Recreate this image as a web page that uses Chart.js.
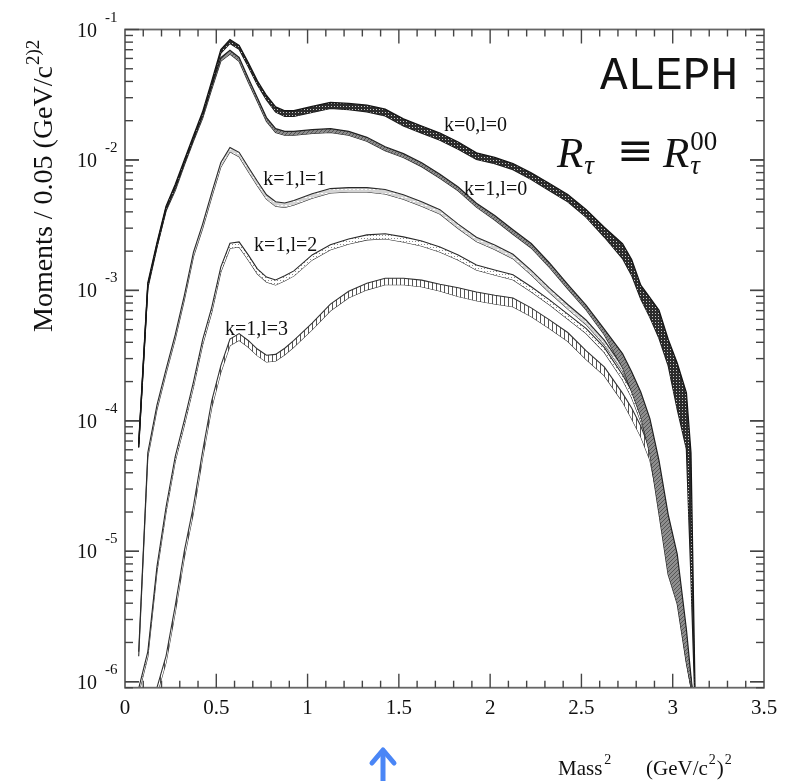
<!DOCTYPE html>
<html>
<head>
<meta charset="utf-8">
<script src="https://cdn.jsdelivr.net/npm/chart.js@4.4.1/dist/chart.umd.min.js"></script>
<style>
  html, body { margin: 0; padding: 0; background: #fff; }
  canvas { display: block; }
</style>
</head>
<body>
<canvas id="moments" width="791" height="781"></canvas>
<script>
// mass^2 bin centres, (GeV/c^2)^2
var mass2 = [0.075, 0.125, 0.175, 0.225, 0.275, 0.325, 0.375, 0.425, 0.475, 0.525,
  0.575, 0.625, 0.675, 0.725, 0.775, 0.825, 0.875, 0.925,
  1.025, 1.125, 1.225, 1.325, 1.425, 1.525, 1.625, 1.725, 1.825, 1.925,
  2.025, 2.125, 2.225, 2.325, 2.425, 2.525, 2.625, 2.725,
  2.775, 2.825, 2.875, 2.925, 2.975, 3.025, 3.075, 3.1, 3.125];

// spectral moments per bin (central value) and relative half width of each band
var r00 = [6.5e-5, 1.11e-3, 2.25e-3, 4.3e-3, 6.3e-3, 9.7e-3, 1.49e-2, 2.27e-2, 3.9e-2, 6.8e-2,
  8.1e-2, 7.3e-2, 5.4e-2, 3.9e-2, 3.0e-2, 2.44e-2, 2.27e-2, 2.27e-2,
  2.44e-2, 2.62e-2, 2.57e-2, 2.48e-2, 2.31e-2, 1.94e-2, 1.71e-2, 1.51e-2, 1.29e-2, 1.07e-2,
  9.9e-3, 8.9e-3, 7.5e-3, 6.2e-3, 5.1e-3, 3.9e-3, 2.8e-3, 2.0e-3,
  1.5e-3, 9.7e-4, 7.4e-4, 5.5e-4, 3.35e-4, 1.84e-4, 1.0e-4, 1.9e-5, 5e-7];
var r00Err = [0.03, 0.03, 0.03, 0.03, 0.03, 0.03, 0.03, 0.03, 0.03, 0.03,
  0.035, 0.035, 0.035, 0.035, 0.04, 0.045, 0.05, 0.05,
  0.055, 0.055, 0.055, 0.06, 0.06, 0.065, 0.065, 0.065, 0.065, 0.06,
  0.055, 0.055, 0.06, 0.065, 0.065, 0.07, 0.09, 0.14,
  0.15, 0.13, 0.19, 0.28, 0.26, 0.5, 0.64, 2.0, 0];

var r10 = [6.4e-5, 1.07e-3, 2.2e-3, 4.2e-3, 6.0e-3, 9.4e-3, 1.44e-2, 2.15e-2, 3.6e-2, 5.9e-2,
  6.7e-2, 5.9e-2, 4.1e-2, 2.9e-2, 2.04e-2, 1.68e-2, 1.60e-2, 1.60e-2,
  1.65e-2, 1.68e-2, 1.60e-2, 1.44e-2, 1.22e-2, 1.08e-2, 9.2e-3, 7.5e-3, 6.0e-3, 4.5e-3,
  3.6e-3, 2.8e-3, 2.2e-3, 1.56e-3, 1.07e-3, 7.4e-4, 4.8e-4, 2.9e-4,
  2.0e-4, 1.34e-4, 7.6e-5, 3.1e-5, 1.13e-5, 6.1e-6, 1.87e-6, 1.0e-6, 5e-7];
var r10Err = [0.03, 0.03, 0.03, 0.03, 0.03, 0.03, 0.03, 0.03, 0.03, 0.03,
  0.035, 0.035, 0.035, 0.035, 0.035, 0.035, 0.035, 0.035,
  0.035, 0.035, 0.035, 0.035, 0.035, 0.035, 0.035, 0.035, 0.035, 0.035,
  0.04, 0.04, 0.04, 0.04, 0.04, 0.04, 0.05, 0.13,
  0.19, 0.24, 0.37, 0.6, 0.7, 0.55, 0.35, 0.1, 0];

var r11 = [1.63e-6, 5.5e-5, 1.27e-4, 2.4e-4, 4.4e-4, 8.8e-4, 1.89e-3, 3.1e-3, 5.4e-3, 9.2e-3,
  1.20e-2, 1.10e-2, 8.5e-3, 6.6e-3, 5.2e-3, 4.6e-3, 4.5e-3, 4.7e-3,
  5.3e-3, 5.8e-3, 5.9e-3, 5.9e-3, 5.7e-3, 5.2e-3, 4.6e-3, 4.0e-3, 3.1e-3, 2.46e-3,
  2.14e-3, 1.82e-3, 1.37e-3, 1.0e-3, 7.5e-4, 5.7e-4, 4.0e-4, 2.5e-4,
  1.81e-4, 1.18e-4, 7.2e-5, 2.9e-5, 1.07e-5, 5.6e-6, 1.77e-6, 1.0e-6, 5e-7];
var r11Err = [0.04, 0.04, 0.04, 0.04, 0.04, 0.04, 0.04, 0.04, 0.04, 0.04,
  0.04, 0.04, 0.04, 0.04, 0.04, 0.04, 0.04, 0.04,
  0.04, 0.04, 0.04, 0.04, 0.04, 0.04, 0.04, 0.04, 0.04, 0.04,
  0.04, 0.04, 0.04, 0.04, 0.04, 0.04, 0.04, 0.04,
  0.06, 0.07, 0.08, 0.1, 0.1, 0.1, 0.1, 0.05, 0];

var r12 = [8.5e-7, 1.63e-6, 7.3e-6, 2.1e-5, 5.1e-5, 9.7e-5, 1.9e-4, 4.0e-4, 7.1e-4, 1.45e-3,
  2.2e-3, 2.25e-3, 1.79e-3, 1.40e-3, 1.21e-3, 1.15e-3, 1.24e-3, 1.35e-3,
  1.79e-3, 2.14e-3, 2.37e-3, 2.55e-3, 2.6e-3, 2.46e-3, 2.29e-3, 2.06e-3, 1.79e-3, 1.50e-3,
  1.37e-3, 1.26e-3, 1.02e-3, 8.1e-4, 6.3e-4, 4.9e-4, 3.5e-4, 2.16e-4,
  1.60e-4, 1.06e-4, 6.7e-5, 2.7e-5, 1.0e-5, 5.1e-6, 1.65e-6, 9.7e-7, 5e-7];
var r12Err = [0.045, 0.045, 0.045, 0.045, 0.045, 0.045, 0.045, 0.045, 0.045, 0.045,
  0.045, 0.045, 0.045, 0.045, 0.045, 0.045, 0.045, 0.045,
  0.045, 0.045, 0.045, 0.045, 0.045, 0.045, 0.045, 0.045, 0.045, 0.045,
  0.045, 0.045, 0.045, 0.045, 0.045, 0.045, 0.045, 0.045,
  0.06, 0.07, 0.08, 0.1, 0.1, 0.1, 0.1, 0.05, 0];

var r13 = [8e-7, 8e-7, 8.5e-7, 1.49e-6, 3.6e-6, 9.5e-6, 2.1e-5, 5.5e-5, 1.34e-4, 2.5e-4,
  4.0e-4, 4.4e-4, 3.9e-4, 3.35e-4, 3.0e-4, 3.05e-4, 3.4e-4, 3.9e-4,
  5.3e-4, 7.4e-4, 9.3e-4, 1.07e-3, 1.17e-3, 1.17e-3, 1.13e-3, 1.05e-3, 9.7e-4, 9.0e-4,
  8.5e-4, 8.1e-4, 6.8e-4, 5.5e-4, 4.4e-4, 3.2e-4, 2.4e-4, 1.51e-4,
  1.14e-4, 8.3e-5, 5.5e-5, 2.5e-5, 9.3e-6, 4.7e-6, 1.57e-6, 9.5e-7, 5e-7];
var r13Err = [0.06, 0.06, 0.06, 0.06, 0.06, 0.06, 0.06, 0.06, 0.06, 0.06,
  0.06, 0.06, 0.06, 0.06, 0.06, 0.06, 0.06, 0.06,
  0.06, 0.06, 0.06, 0.06, 0.06, 0.06, 0.06, 0.06, 0.08, 0.08,
  0.08, 0.08, 0.08, 0.08, 0.08, 0.08, 0.08, 0.08,
  0.1, 0.1, 0.1, 0.1, 0.1, 0.1, 0.1, 0.05, 0];

// axis ticks
var xTickValues = [0, 0.5, 1, 1.5, 2, 2.5, 3, 3.5];
var xTickLabels = ['0', '0.5', '1', '1.5', '2', '2.5', '3', '3.5'];
var yDecades = [-1, -2, -3, -4, -5, -6];

// curve names and where they are written (mass^2, moment)
var curveNames = ['k=0,l=0', 'k=1,l=0', 'k=1,l=1', 'k=1,l=2', 'k=1,l=3'];
var curveNameAt = [[1.92, 1.84e-2], [2.03, 5.9e-3], [0.93, 7.1e-3], [0.88, 2.2e-3], [0.72, 5.0e-4]];

var SERIF = '"Liberation Serif", "Times New Roman", serif';

function pattern(size, paint) {
  var c = document.createElement('canvas');
  c.width = size;
  c.height = size;
  var g = c.getContext('2d');
  paint(g);
  return g.createPattern(c, 'repeat');
}

var fill00 = pattern(3, function (g) {
  g.fillStyle = '#2b2b2b'; g.fillRect(0, 0, 3, 3);
  g.fillStyle = '#c8c8c8'; g.fillRect(1, 1, 1, 1);
});
var fill10 = pattern(4, function (g) {
  g.fillStyle = '#8e8e8e'; g.fillRect(0, 0, 4, 4);
  g.fillStyle = '#555'; g.fillRect(0, 3, 1, 1); g.fillRect(1, 2, 1, 1); g.fillRect(2, 1, 1, 1); g.fillRect(3, 0, 1, 1);
});
var fill11 = pattern(4, function (g) {
  g.fillStyle = '#d4d4d4'; g.fillRect(0, 0, 4, 4);
  g.fillStyle = '#fff'; g.fillRect(1, 1, 2, 1);
});
var fill12 = pattern(3, function (g) {
  g.fillStyle = '#fff'; g.fillRect(0, 0, 3, 3);
  g.fillStyle = '#8a8a8a'; g.fillRect(1, 1, 1, 1);
});
var fill13 = pattern(4, function (g) {
  g.fillStyle = '#fff'; g.fillRect(0, 0, 4, 4);
  g.fillStyle = '#555'; g.fillRect(0, 0, 1, 4);
});

function band(vals, errs, fill, edge, width) {
  var hi = vals.map(function (v, i) { return { x: mass2[i], y: v * (1 + errs[i]) }; });
  var lo = vals.map(function (v, i) { return { x: mass2[i], y: v / (1 + errs[i]) }; });
  return [
    { data: hi, fill: '+1', backgroundColor: fill, borderColor: edge, borderWidth: width },
    { data: lo, fill: false, borderColor: edge, borderWidth: width }
  ];
}

var datasets = [].concat(
  band(r00, r00Err, fill00, '#151515', 1.3),
  band(r10, r10Err, fill10, '#222', 1.2),
  band(r11, r11Err, fill11, '#2a2a2a', 1.1),
  band(r12, r12Err, fill12, '#2a2a2a', 1.1),
  band(r13, r13Err, fill13, '#333', 1.1)
);

function line(ctx, x0, y0, x1, y1) {
  ctx.beginPath();
  ctx.moveTo(x0, y0);
  ctx.lineTo(x1, y1);
  ctx.stroke();
}

function sup(ctx, text, x, y, font) {
  ctx.font = font;
  ctx.fillText(text, x, y);
  return x + ctx.measureText(text).width;
}

var decorations = {
  id: 'decorations',
  afterDraw: function (chart) {
    var ctx = chart.ctx, a = chart.chartArea;
    var xs = chart.scales.x, ys = chart.scales.y;
    ctx.save();

    // frame
    ctx.strokeStyle = '#666';
    ctx.lineWidth = 1.8;
    ctx.strokeRect(a.left, a.top, a.right - a.left, a.bottom - a.top);

    // x ticks, bottom and top, pointing inwards
    ctx.lineWidth = 1.4;
    ctx.strokeStyle = '#444';
    for (var i = 1; i < 35; i++) {
      var px = xs.getPixelForValue(i / 10);
      var len = (i % 5 === 0) ? 14 : 7;
      line(ctx, px, a.bottom, px, a.bottom - len);
      line(ctx, px, a.top, px, a.top + len);
    }

    // y ticks, left and right
    yDecades.forEach(function (d) {
      for (var m = 1; m <= 9; m++) {
        var v = m * Math.pow(10, d - 1);
        if (v > ys.max * 1.0001 || v < ys.min) continue;
        var py = ys.getPixelForValue(v);
        var len = (m === 1) ? 14 : 8;
        line(ctx, a.left, py, a.left + len, py);
        line(ctx, a.right, py, a.right - len, py);
      }
      var top = ys.getPixelForValue(Math.pow(10, d));
      line(ctx, a.left, top, a.left + 14, top);
      line(ctx, a.right, top, a.right - 14, top);
    });

    ctx.fillStyle = '#111';

    // x tick labels
    ctx.font = '21px ' + SERIF;
    ctx.textAlign = 'center';
    ctx.textBaseline = 'alphabetic';
    xTickValues.forEach(function (v, i) {
      ctx.fillText(xTickLabels[i], xs.getPixelForValue(v), a.bottom + 26);
    });

    // y tick labels, 10 to a power
    yDecades.forEach(function (d) {
      var py = ys.getPixelForValue(Math.pow(10, d));
      ctx.font = '20px ' + SERIF;
      ctx.textAlign = 'right';
      ctx.fillText('10', 97, py + 7);
      ctx.textAlign = 'left';
      ctx.font = '15px ' + SERIF;
      ctx.fillText(String(d), 105, py - 8);
    });

    // axis titles
    ctx.textAlign = 'left';
    var x = 558, base = 775;
    x = sup(ctx, 'Mass', x, base, '21px ' + SERIF);
    sup(ctx, '2', x + 2, base - 11, '14px ' + SERIF);
    x = sup(ctx, '(GeV/c', 646, base, '21px ' + SERIF);
    x = sup(ctx, '2', x + 1, base - 11, '14px ' + SERIF);
    x = sup(ctx, ')', x + 1, base, '21px ' + SERIF);
    sup(ctx, '2', x + 1, base - 11, '14px ' + SERIF);

    ctx.save();
    ctx.translate(52, 332);
    ctx.rotate(-Math.PI / 2);
    var w = sup(ctx, 'Moments / 0.05 (GeV/c', 0, 0, '28px ' + SERIF);
    sup(ctx, '2)2', w + 1, -13, '19px ' + SERIF);
    ctx.restore();

    // curve names
    ctx.font = '20px ' + SERIF;
    ctx.textAlign = 'center';
    ctx.textBaseline = 'middle';
    curveNames.forEach(function (name, i) {
      var at = curveNameAt[i];
      ctx.fillText(name, xs.getPixelForValue(at[0]), ys.getPixelForValue(at[1]));
    });

    // experiment and observable
    ctx.textBaseline = 'alphabetic';
    ctx.textAlign = 'left';
    ctx.font = '46px "Liberation Mono", "DejaVu Sans Mono", monospace';
    ctx.fillText('ALEPH', 600, 89);

    var ital = 'italic 43px ' + SERIF;
    var subI = 'italic 27px ' + SERIF;
    x = sup(ctx, 'R', 557, 167, ital);
    sup(ctx, '\u03c4', x + 1, 174, subI);
    sup(ctx, '\u2261', 617, 165, '44px "DejaVu Serif", ' + SERIF);
    x = sup(ctx, 'R', 663, 167, ital);
    sup(ctx, '\u03c4', x + 1, 174, subI);
    sup(ctx, '00', x + 1, 150, '27px ' + SERIF);

    // marker below the axis
    ctx.strokeStyle = '#4a86f6';
    ctx.lineWidth = 5;
    ctx.lineCap = 'round';
    ctx.lineJoin = 'round';
    line(ctx, 383, 752, 383, 785);
    ctx.beginPath();
    ctx.moveTo(372, 763);
    ctx.lineTo(383, 750);
    ctx.lineTo(394, 763);
    ctx.stroke();

    ctx.restore();
  }
};

new Chart(document.getElementById('moments'), {
  type: 'line',
  data: { datasets: datasets },
  options: {
    responsive: false,
    animation: false,
    layout: { padding: { left: 125, right: 27, top: 29.5, bottom: 93.3 } },
    elements: { point: { radius: 0 }, line: { tension: 0 } },
    plugins: { legend: { display: false }, tooltip: { enabled: false } },
    scales: {
      x: { type: 'linear', min: 0, max: 3.5, display: false },
      y: { type: 'logarithmic', min: 9.0e-7, max: 0.1, display: false }
    }
  },
  plugins: [decorations]
});
</script>
</body>
</html>
